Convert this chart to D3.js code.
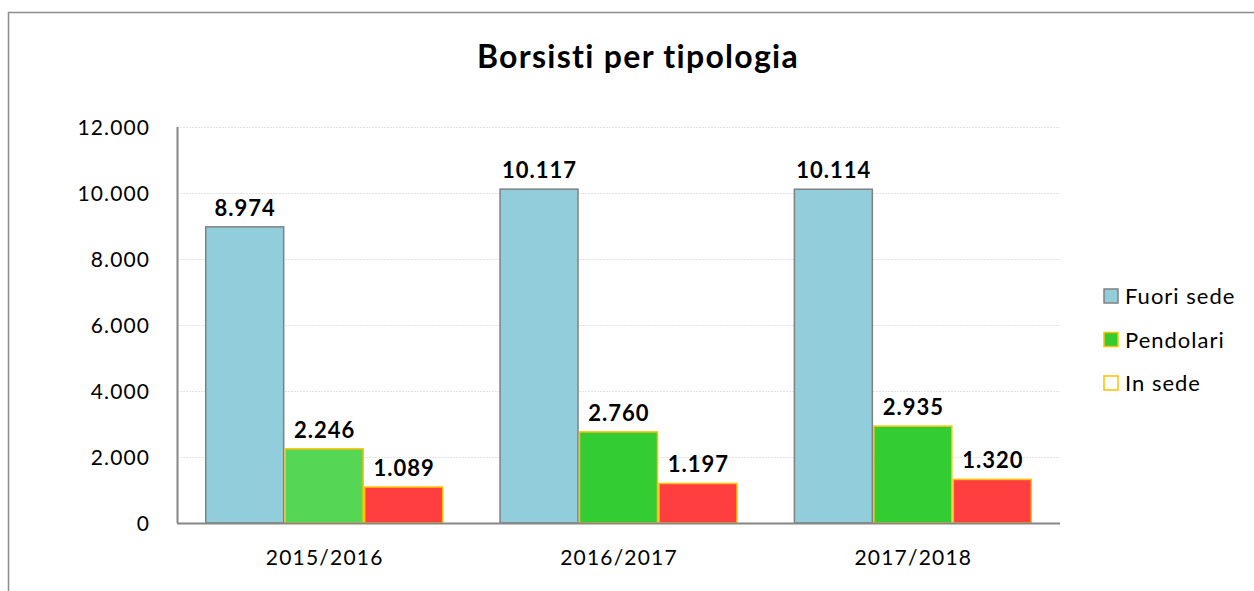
<!DOCTYPE html>
<html>
<head>
<meta charset="utf-8">
<script src="https://cdn.jsdelivr.net/npm/d3@7"></script>
<style>
  body { margin: 0; background: #fff; }
  svg { font-family: Lato, "Open Sans", sans-serif; }
</style>
</head>
<body>
<div id="chart"></div>
<script>
const years = ["2015/2016", "2016/2017", "2017/2018"];
const seriesNames = ["Fuori sede", "Pendolari", "In sede"];
const fuoriSede = [8974, 10117, 10114];
const pendolari = [2246, 2760, 2935];
const inSede = [1089, 1197, 1320];
const yTicks = [0, 2000, 4000, 6000, 8000, 10000, 12000];

const width = 1254, height = 591;
const margin = { top: 127, left: 177, right: 194, bottom: 68 };

const fills = ["#92cddc", "#33cc33", "#ff3f3f"];
const strokes = ["#808080", "#ffc000", "#ffc000"];

const svg = d3.select("#chart").append("svg")
    .attr("width", width)
    .attr("height", height);

// frame
svg.append("path")
    .attr("d", `M8.5,${height} V12.5 H${width}`)
    .attr("fill", "none")
    .attr("stroke", "#8c8c8c")
    .attr("stroke-width", 1.5);

const x0 = d3.scaleBand().domain(years)
    .range([margin.left, width - margin.right])
    .paddingInner(0.19).paddingOuter(0.095);
const x1 = d3.scaleBand().domain(seriesNames).range([0, x0.bandwidth()]);
const y = d3.scaleLinear().domain([0, 12000]).range([height - margin.bottom, margin.top]);

const fmt = v => d3.format(",")(v).replace(/,/g, ".");

// grid
svg.append("g").selectAll("line")
    .data(yTicks.filter(t => t > 0))
    .enter().append("line")
    .attr("x1", margin.left).attr("x2", width - margin.right)
    .attr("y1", d => y(d) + 0.5).attr("y2", d => y(d) + 0.5)
    .attr("stroke", "#e3e3e3")
    .attr("stroke-dasharray", "2,1");

// y labels
svg.append("g").selectAll("text")
    .data(yTicks)
    .enter().append("text")
    .attr("x", 150).attr("y", d => y(d) + 7.5)
    .attr("text-anchor", "end")
    .style("font-size", "21px")
    .style("letter-spacing", "1.1px")
    .text(fmt);

const data = years.map((yr, i) => ({ year: yr, values: [fuoriSede[i], pendolari[i], inSede[i]] }));

const groups = svg.append("g").selectAll("g")
    .data(data)
    .enter().append("g")
    .attr("transform", d => `translate(${x0(d.year)},0)`);

groups.selectAll("rect")
    .data((d, gi) => d.values.map((v, si) => ({ v, si, gi })))
    .enter().append("rect")
    .attr("x", d => x1(seriesNames[d.si]) + 0.75)
    .attr("width", x1.bandwidth() - 1.5)
    .attr("y", d => y(d.v))
    .attr("height", d => y(0) - y(d.v))
    .attr("fill", d => (d.gi === 0 && d.si === 1) ? "#55d655" : fills[d.si])
    .attr("stroke", d => strokes[d.si])
    .attr("stroke-width", 1.5);

groups.selectAll("text")
    .data(d => d.values.map((v, si) => ({ v, si })))
    .enter().append("text")
    .attr("x", d => x1(seriesNames[d.si]) + x1.bandwidth() / 2 + 0.5)
    .attr("y", d => y(d.v) - 11)
    .attr("text-anchor", "middle")
    .style("font-size", "22px")
    .style("font-weight", "bold")
    .style("letter-spacing", "1px")
    .text(d => fmt(d.v));

// axes lines
svg.append("line")
    .attr("x1", margin.left + 0.5).attr("x2", margin.left + 0.5)
    .attr("y1", margin.top).attr("y2", y(0))
    .attr("stroke", "#868686").attr("stroke-width", 2);
svg.append("line")
    .attr("x1", margin.left).attr("x2", width - margin.right)
    .attr("y1", y(0) + 0.5).attr("y2", y(0) + 0.5)
    .attr("stroke", "#868686").attr("stroke-width", 2);

// x labels
svg.append("g").selectAll("text")
    .data(years)
    .enter().append("text")
    .attr("x", d => x0(d) + x0.bandwidth() / 2 + 0.5)
    .attr("y", 565)
    .attr("text-anchor", "middle")
    .style("font-size", "21px")
    .style("letter-spacing", "1.2px")
    .text(d => d);

// title
svg.append("text")
    .attr("x", 638).attr("y", 68)
    .attr("text-anchor", "middle")
    .style("font-size", "32px")
    .style("font-weight", "bold")
    .style("letter-spacing", "1.3px")
    .text("Borsisti per tipologia");

// legend
const legend = svg.append("g").selectAll("g")
    .data(seriesNames)
    .enter().append("g")
    .attr("transform", (d, i) => `translate(1104,${289 + i * 43.5})`);
legend.append("rect")
    .attr("width", 14).attr("height", 14)
    .attr("fill", (d, i) => i === 2 ? "#fff" : fills[i])
    .attr("stroke", (d, i) => strokes[i])
    .attr("stroke-width", 1.5);
legend.append("text")
    .attr("x", 21).attr("y", 15)
    .style("font-size", "22px")
    .style("letter-spacing", "1px")
    .text(d => d);
</script>
</body>
</html>
